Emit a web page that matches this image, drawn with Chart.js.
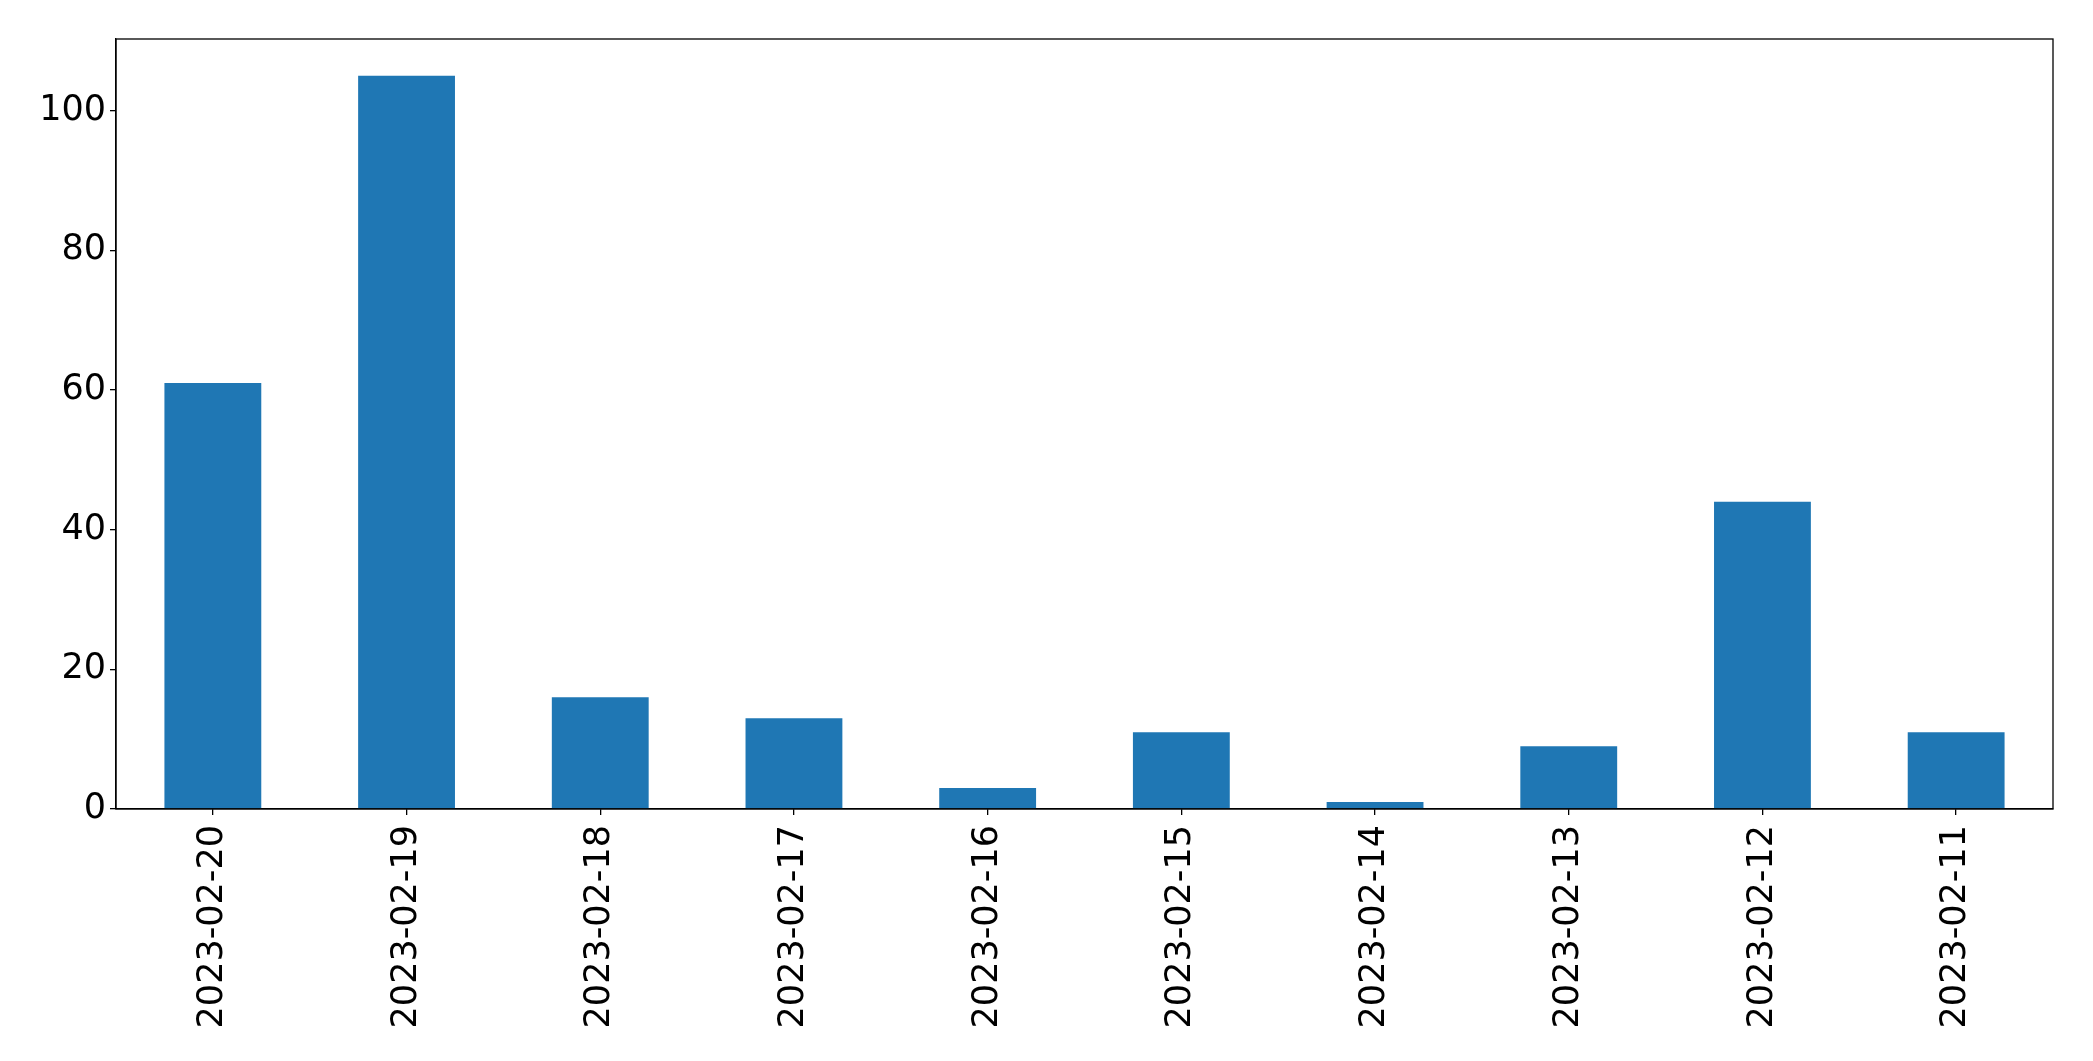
<!DOCTYPE html>
<html>
<head>
<meta charset="utf-8">
<script src="https://cdn.jsdelivr.net/npm/chart.js@4/dist/chart.umd.min.js"></script>
<style>
html,body{margin:0;padding:0;background:#fff;}
#wrap{width:2093px;height:1061px;position:relative;}
</style>
</head>
<body>
<div id="wrap"><canvas id="c" width="2093" height="1061"></canvas></div>
<script>
const categories = ["2023-02-20","2023-02-19","2023-02-18","2023-02-17","2023-02-16","2023-02-15","2023-02-14","2023-02-13","2023-02-12","2023-02-11"];
const counts = [61,105,16,13,3,11,1,9,44,11];
const yTicks = [0,20,40,60,80,100];
const yMax = 110.25;

const frame = {
  id: 'frame',
  afterDraw(chart){
    const a = chart.chartArea, ctx = chart.ctx;
    ctx.save();
    ctx.strokeStyle = '#000';
    ctx.lineWidth = 1.3;
    ctx.strokeRect(a.left, a.top, a.right - a.left, a.bottom - a.top);
    ctx.restore();
  }
};

const font = {family: '"DejaVu Sans"', size: 35};

new Chart(document.getElementById('c'), {
  type: 'bar',
  data: {
    labels: categories,
    datasets: [{
      data: counts,
      backgroundColor: '#1f77b4',
      borderWidth: 0,
      categoryPercentage: 0.5,
      barPercentage: 1.0
    }]
  },
  options: {
    responsive: false,
    animation: false,
    devicePixelRatio: 1,
    layout: {padding: {left: 0, top: 39, right: 40, bottom: 0}},
    plugins: {legend: {display: false}, tooltip: {enabled: false}},
    scales: {
      x: {
        offset: true,
        grid: {display: true, offset: false, drawOnChartArea: false, tickLength: 6, color: '#000', lineWidth: 1.3},
        border: {display: true, color: '#000', width: 1.3},
        ticks: {color: '#000', font: font, minRotation: 90, maxRotation: 90, padding: 10, autoSkip: false},
        afterFit(s){ s.height = 252; }
      },
      y: {
        min: 0,
        max: yMax,
        grid: {display: true, drawOnChartArea: false, tickLength: 6, color: '#000', lineWidth: 1.3},
        border: {display: true, color: '#000', width: 1.3},
        ticks: {color: '#000', font: font, padding: 4, stepSize: 20},
        afterBuildTicks(s){ s.ticks = yTicks.map(v => ({value: v})); },
        afterFit(s){ s.width = 116; }
      }
    }
  },
  plugins: [frame]
});
</script>
</body>
</html>
